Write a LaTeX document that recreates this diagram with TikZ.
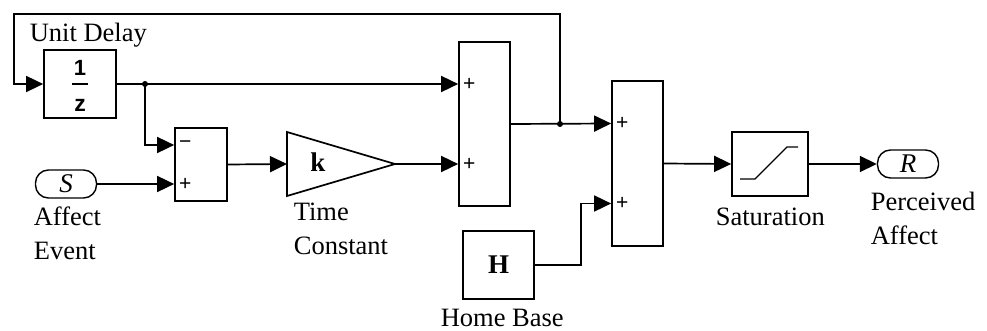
\documentclass[tikz,border=0pt]{standalone}
\usepackage{fontspec}
\setmainfont{Liberation Serif}
\newfontfamily\blockfont{Liberation Sans}
\usetikzlibrary{arrows.meta,positioning}

\begin{document}
\begin{tikzpicture}[
    x=1pt, y=-1pt,
    line width=1.7pt,
    block/.style={rectangle, draw=black, line width=1.7pt, inner sep=0pt},
    port/.style={rectangle, rounded corners=13pt, draw=black, line width=1.4pt,
                 minimum width=61pt, minimum height=28pt, inner sep=0pt,
                 font=\fontsize{27}{27}\selectfont\itshape},
    sig/.style={-{Triangle[length=17pt, width=16pt]}, line width=1.7pt},
    lbl/.style={inner sep=0pt, align=left, font=\fontsize{26.5}{34}\selectfont},
    sgn/.style={inner sep=0pt, font=\blockfont\fontsize{21}{21}\selectfont},
    dot/.style={circle, fill=black, inner sep=0pt, minimum size=6pt}
]
\useasboundingbox (0,0) rectangle (987,331);

% blocks
\node[block, minimum width=72pt, minimum height=68pt] (delay) at (80,84) {};
\node[block, minimum width=52pt, minimum height=73pt] (sub) at (201,164.5) {};
\node[block, minimum width=51pt, minimum height=164pt] (sum1) at (484.5,124) {};
\node[block, minimum width=51pt, minimum height=165pt] (sum2) at (637.5,163.5) {};
\node[block, minimum width=71pt, minimum height=68pt,
      font=\fontsize{27}{27}\selectfont\bfseries] (home) at (498.5,265) {H};
\node[block, minimum width=76pt, minimum height=64pt] (sat) at (770,164) {};
\node[port] (inS) at (66,184) {S};
\node[port] (outR) at (908,164) {R};

% gain
\coordinate (gain-in) at (287,164);
\coordinate (gain-out) at (395,164);
\draw[line width=1.7pt, line join=miter] (287,132) -- (gain-out) -- (287,196) -- cycle;
\node[inner sep=0pt, font=\fontsize{27}{27}\selectfont\bfseries] (gain) at (318,162) {k};

% block contents
\node[sgn, font=\blockfont\fontsize{22}{22}\selectfont\bfseries] (delay-num) at ([yshift=16.5pt]delay.center) {1};
\draw[line width=1.5pt] ([xshift=-8pt]delay.center) -- ([xshift=8pt]delay.center);
\node[sgn, font=\blockfont\fontsize{23}{23}\selectfont\bfseries] (delay-den) at ([yshift=-21pt]delay.center) {z};
\begin{scope}[shift={(sat.center)}]
\draw[line width=1.3pt] (-30,15) -- (-15,15) -- (17,-17) -- (28,-17);
\end{scope}

% input ports
\coordinate (sub-minus) at ([yshift=19.5pt]sub.west);
\coordinate (sub-plus) at ([yshift=-19.5pt]sub.west);
\coordinate (sum1-in1) at ([yshift=40pt]sum1.west);
\coordinate (sum1-in2) at ([yshift=-40pt]sum1.west);
\coordinate (sum2-in1) at ([yshift=40pt]sum2.west);
\coordinate (sum2-in2) at ([yshift=-40pt]sum2.west);
\node[sgn, right=4pt of sub-minus] {−};
\node[sgn, right=4pt of sub-plus] {+};
\node[sgn, right=4pt of sum1-in1] {+};
\node[sgn, right=4pt of sum1-in2] {+};
\node[sgn, right=4pt of sum2-in1] {+};
\node[sgn, right=4pt of sum2-in2] {+};

% labels
\node[lbl, anchor=base west] (delay-lbl) at (29,42) {Unit Delay};
\node[lbl, anchor=north west] (inS-lbl) at (33,206) {Affect\\Event};
\node[lbl, anchor=north west] (gain-lbl) at (293,202) {Time\\Constant};
\node[lbl, anchor=north west] (sat-lbl) at (715,207) {Saturation};
\node[lbl, anchor=north west] (outR-lbl) at (870,191) {Perceived\\Affect};
\node[lbl, anchor=north west] (home-lbl) at (440,308) {Home Base};

% signals
\coordinate (j1) at (145,84);
\coordinate (j2) at (560,124);
\coordinate (loop-top) at (14,14);
\draw[sig] (delay.east) -- (sum1-in1);
\draw[sig] (j1) |- (sub-minus);
\draw[sig] (inS.east) -- (sub-plus);
\draw[sig] (sub.east) -- (gain-in);
\draw[sig] (gain-out) -- (sum1-in2);
\draw[sig] (sum1.east) -- (sum2-in1);
\draw[sig] (j2) |- (loop-top) |- (delay.west);
\draw[sig] (home.east) -- ++(46,0) |- (sum2-in2);
\draw[sig] (sum2.east) -- (sat.west);
\draw[sig] (sat.east) -- (outR.west);
\node[dot] at (j1) {};
\node[dot] at (j2) {};

\end{tikzpicture}
\end{document}
